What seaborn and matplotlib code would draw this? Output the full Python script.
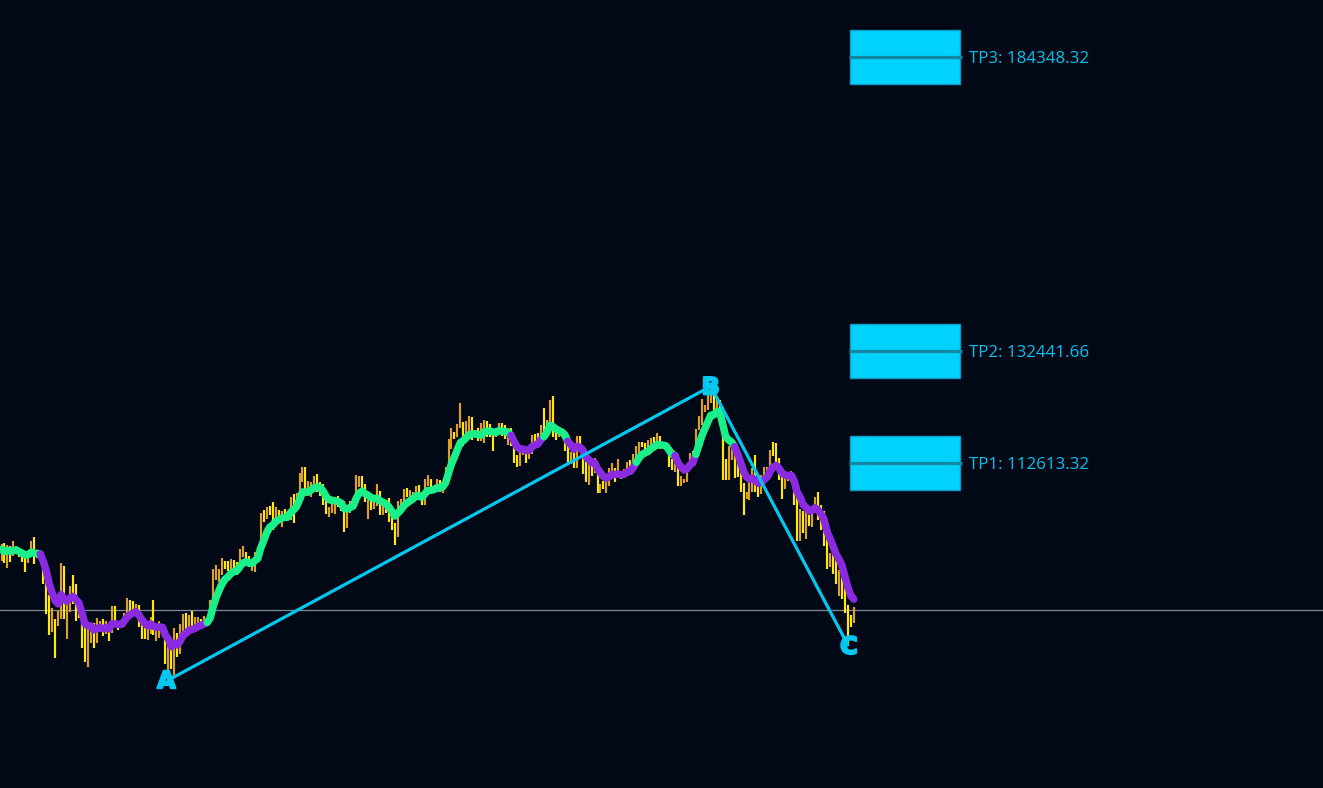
import numpy as np
import pandas as pd
import matplotlib
matplotlib.use("Agg")
import matplotlib.pyplot as plt
import matplotlib.patheffects as pe
from matplotlib.patches import Rectangle
import seaborn as sns

# ---------------- data (daily bars, prices in thousands USD) ----------------
start_date = "2025-02-10"
first_open_k = 96.5

closes_k = [
    # Feb 10-28
    97.4, 95.8, 97.9, 96.6, 97.5, 97.6, 96.1, 95.8, 95.5, 96.6, 98.3, 96.1, 96.6, 96.3, 91.5, 88.7, 84.3, 84.7, 84.4,
    # Mar
    86.0, 94.3, 86.1, 87.2, 90.6, 89.9, 86.7, 86.2, 80.7, 78.5, 83.0, 83.7, 81.1, 84.0, 84.3, 82.6, 84.1, 82.7, 86.9, 84.2,
    84.0, 83.8, 86.1, 87.5, 87.4, 86.9, 87.2, 84.4, 82.6, 82.3, 82.5,
    # Apr
    85.2, 82.5, 83.1, 83.8, 83.5, 78.2, 79.2, 76.3, 82.6, 79.6, 83.4, 85.3, 83.7, 84.5, 83.7, 84.0, 84.9, 84.4, 85.1, 85.2,
    87.5, 93.4, 93.7, 93.9, 94.7, 94.6, 93.8, 95.0, 94.3, 94.2,
    # May
    96.5, 96.9, 95.9, 94.3, 94.7, 96.8, 97.0, 103.2, 102.9, 104.6, 104.1, 102.8, 104.2, 103.5, 103.8, 103.5, 103.1, 106.5,
    105.6, 106.8, 109.7, 111.7, 107.3, 107.8, 109.0, 109.4, 108.9, 107.8, 105.6, 103.9, 104.6,
    # Jun
    105.7, 105.8, 105.4, 104.7, 101.6, 104.4, 105.6, 105.8, 110.3, 110.3, 108.7, 105.9, 106.1, 105.4, 105.6, 106.8, 104.6,
    104.9, 104.6, 103.3, 101.6, 100.9, 105.4, 106.0, 107.3, 106.9, 107.1, 107.3, 108.4, 107.1,
    # Jul
    105.7, 108.9, 109.6, 108.0, 108.2, 109.2, 108.3, 108.9, 111.3, 115.9, 117.5, 117.4, 119.1, 119.8, 117.7, 118.7, 119.3,
    117.9, 117.9, 117.3, 117.4, 119.9, 118.6, 118.3, 117.6, 117.9, 119.4, 118.0, 117.8, 117.8, 115.8,
    # Aug
    113.3, 112.5, 114.2, 115.0, 114.1, 115.0, 117.5, 116.7, 116.5, 119.3, 118.7, 120.2, 123.3, 118.4, 117.4, 117.5, 117.4,
    116.3, 112.9, 114.3, 112.5, 116.9, 115.4, 113.5, 110.1, 111.8, 111.2, 112.6, 108.4, 108.8, 108.2,
    # Sep
    109.2, 111.2, 111.7, 110.7, 110.7, 110.2, 111.2, 112.1, 111.5, 113.9, 115.5, 116.1, 115.9, 115.3, 115.4, 116.8, 116.5,
    117.1, 115.6, 115.7, 115.3, 112.7, 112.0, 113.3, 109.0, 109.7, 109.7, 112.1, 114.4, 114.0,
    # Oct
    118.6, 120.6, 122.3, 122.4, 123.5, 124.7, 121.4, 123.3, 121.7, 113.2, 110.6, 114.9, 115.3, 113.0, 110.7, 108.2, 106.4,
    107.2, 108.6, 110.5, 108.3, 107.5, 110.1, 111.0, 111.6, 114.5, 114.1, 112.9, 110.0, 108.3, 109.6,
    # Nov 1-23
    110.1, 110.6, 106.5, 101.6, 103.9, 101.3, 103.4, 102.3, 104.7, 106.0, 103.1, 101.7, 99.7, 94.4, 95.5, 94.2, 92.2,
    92.9, 91.5, 86.6, 85.1, 84.7, 86.7,
]

highs_k = [
    98.3, 98.5, 98.1, 97.9, 98.8, 97.9, 97.7, 97.0, 96.0, 96.9, 98.8, 99.5, 96.9, 96.7, 96.5, 92.5, 89.3, 87.0, 85.0,
    86.5, 95.0, 94.4, 88.9, 91.0, 92.8, 91.3, 86.9, 86.5, 84.0, 83.6, 84.3, 84.3, 85.3, 84.7, 85.0, 84.7, 84.1, 87.4, 87.4,
    84.8, 84.5, 86.1, 88.8, 88.5, 88.3, 87.8, 87.5, 84.6, 83.5, 83.9,
    85.5, 88.5, 83.9, 84.7, 84.2, 83.8, 81.2, 80.8, 83.5, 82.7, 84.2, 85.9, 86.1, 85.8, 86.5, 85.5, 85.5, 85.1, 85.6, 85.3,
    88.5, 93.9, 94.7, 94.0, 95.8, 95.3, 95.3, 95.6, 95.5, 95.2,
    97.4, 97.9, 96.9, 96.3, 95.2, 96.9, 97.7, 103.9, 104.3, 104.9, 105.0, 105.8, 104.9, 104.3, 104.2, 104.6, 103.7, 106.7,
    107.1, 107.3, 110.8, 111.9, 111.9, 109.5, 109.3, 110.4, 110.7, 109.3, 108.9, 106.3, 104.9,
    105.9, 105.9, 106.8, 106.0, 105.9, 105.3, 105.9, 106.5, 110.6, 110.4, 110.4, 108.9, 106.2, 106.2, 106.0, 108.9, 107.7,
    105.6, 105.0, 106.5, 104.0, 102.0, 106.0, 106.3, 108.0, 108.3, 107.8, 107.6, 108.5, 108.8,
    107.5, 109.8, 110.5, 109.8, 108.4, 109.8, 109.7, 109.2, 111.9, 116.9, 118.9, 118.2, 119.5, 123.2, 119.9, 120.0, 120.9,
    120.8, 118.5, 118.8, 119.7, 120.2, 120.1, 119.5, 118.4, 118.2, 119.8, 119.8, 119.3, 118.8, 118.9,
    116.1, 114.0, 114.8, 115.7, 115.1, 115.7, 117.6, 117.7, 117.9, 119.3, 122.3, 120.3, 123.7, 124.5, 119.3, 117.9, 118.6,
    117.6, 117.0, 114.6, 114.6, 117.4, 117.4, 115.6, 113.7, 112.4, 112.6, 113.5, 112.6, 108.9, 109.5,
    109.9, 111.8, 112.6, 111.8, 113.4, 111.0, 111.6, 112.9, 113.2, 114.3, 115.6, 116.3, 116.4, 116.1, 116.8, 117.0, 117.3,
    117.9, 117.5, 116.2, 115.9, 115.4, 113.3, 114.0, 113.4, 110.3, 109.8, 112.3, 114.5, 114.8,
    118.7, 121.0, 123.9, 122.9, 125.7, 126.2, 125.1, 124.1, 123.8, 122.5, 113.3, 115.6, 115.9, 115.4, 113.6, 111.9, 109.1,
    107.5, 109.4, 111.7, 114.0, 109.1, 110.6, 112.0, 111.9, 115.0, 116.4, 116.1, 113.6, 111.6, 111.2,
    110.6, 111.2, 110.7, 106.6, 104.5, 104.2, 104.0, 103.5, 105.0, 106.7, 107.5, 105.3, 104.1, 99.8, 96.8, 96.6, 96.0,
    93.8, 93.1, 93.2, 87.5, 85.8, 87.2,
]

lows_k = [
    95.3, 94.9, 94.1, 95.2, 96.3, 97.1, 96.0, 95.2, 93.4, 95.0, 96.5, 94.8, 95.8, 95.3, 91.3, 86.0, 82.3, 82.8, 78.2,
    83.8, 85.0, 85.1, 81.5, 86.3, 87.8, 84.7, 85.2, 80.0, 77.5, 76.6, 80.8, 79.9, 80.8, 83.6, 82.0, 82.5, 81.2, 82.6, 83.7,
    83.2, 83.7, 83.7, 85.9, 86.3, 85.9, 85.8, 83.6, 81.6, 81.6, 81.3,
    82.4, 82.3, 81.2, 81.7, 82.4, 77.2, 74.3, 76.2, 74.6, 78.4, 78.9, 82.8, 82.9, 83.7, 83.6, 83.1, 83.9, 84.2, 84.3, 83.9,
    85.1, 87.0, 91.9, 91.7, 92.9, 93.9, 93.6, 92.8, 93.8, 92.9,
    94.1, 96.0, 95.7, 94.2, 93.5, 93.4, 95.8, 96.9, 102.3, 102.8, 103.4, 100.8, 101.5, 102.6, 101.4, 103.1, 102.6, 102.6,
    102.0, 104.9, 106.2, 109.3, 106.8, 106.9, 106.6, 108.7, 107.6, 106.8, 105.3, 103.6, 103.1,
    103.9, 103.7, 104.9, 104.2, 100.4, 101.1, 103.9, 104.9, 105.3, 108.4, 108.1, 105.7, 102.7, 104.3, 104.5, 105.0, 103.4,
    103.5, 103.9, 102.3, 100.8, 98.2, 99.6, 104.6, 105.5, 106.6, 106.4, 106.9, 107.2, 106.8,
    105.3, 105.2, 108.6, 107.3, 107.8, 107.9, 107.5, 107.4, 108.4, 110.6, 115.2, 116.9, 117.3, 118.9, 115.7, 117.3, 117.4,
    116.8, 117.4, 116.6, 116.5, 116.1, 117.3, 117.3, 114.7, 117.2, 117.8, 117.5, 116.9, 115.8, 115.6,
    112.7, 112.0, 112.1, 114.0, 112.7, 113.4, 114.3, 115.9, 116.3, 116.5, 118.1, 118.2, 118.9, 117.2, 116.8, 117.2, 117.2,
    114.7, 112.7, 112.4, 111.8, 111.7, 114.6, 110.7, 109.3, 108.7, 110.4, 110.9, 107.4, 107.4, 108.1,
    107.3, 108.6, 110.6, 109.3, 110.2, 109.9, 110.0, 110.6, 110.8, 110.9, 113.4, 114.2, 115.4, 115.1, 114.4, 114.8, 114.8,
    116.4, 115.2, 115.5, 115.2, 111.9, 111.5, 111.1, 108.6, 108.6, 109.1, 109.3, 111.6, 112.7,
    113.9, 118.4, 119.3, 121.6, 122.1, 123.3, 120.6, 121.0, 119.7, 109.7, 109.6, 109.7, 113.2, 110.0, 110.2, 107.6, 103.5,
    106.3, 106.1, 107.5, 107.5, 106.7, 107.2, 109.7, 110.7, 111.3, 113.8, 112.2, 109.6, 106.3, 108.0,
    109.4, 109.5, 105.3, 98.9, 98.9, 100.3, 99.3, 101.5, 101.4, 104.3, 102.5, 100.8, 98.0, 94.0, 94.3, 93.0, 91.2,
    89.2, 88.6, 86.1, 80.5, 83.7, 84.4,
]

# ABC swing pivots
pivot_labels = ["A", "B", "C"]
pivot_dates = ["2025-04-07", "2025-10-06", "2025-11-21"]
pivot_prices = [74293.00, 126199.66, 80535.00]

# take-profit projections of the A-B leg from C
tp_names = ["TP1", "TP2", "TP3"]
tp_ratios = [0.618, 1.0, 2.0]

# trend state of the smoothed average (colour switches)
trend_starts = ["2025-02-10", "2025-02-23", "2025-04-20", "2025-07-31", "2025-08-11",
                "2025-08-19", "2025-09-11", "2025-09-24", "2025-10-01", "2025-10-14"]
trend_dirs = ["up", "down", "up", "down", "up", "down", "up", "down", "up", "down"]
ma_span = 7

# ---------------- style ----------------
BG = "#010816"
UP_BAR = "#DDA024"
DOWN_BAR = "#FFEA00"
MA_UP = "#1AF08A"
MA_DOWN = "#8A2BE2"
CYAN = "#00C8F0"
BOX_FILL = "#00D2FF"
BOX_EDGE = "#0E9CC4"
BOX_MID = "#14869F"
TP_TEXT = "#00C2EE"
LAST_LINE = "#7F8C9C"

sns.set_theme(style="dark", rc={"axes.facecolor": BG, "figure.facecolor": BG,
                                "savefig.facecolor": BG, "axes.grid": False})
plt.rcParams["font.family"] = ["Open Sans", "DejaVu Sans"]

fig = plt.figure(figsize=(13.23, 7.88), dpi=100)
ax = fig.add_axes([0, 0, 1, 1])
ax.set_facecolor(BG)
ax.set_axis_off()

dates = pd.date_range(start_date, periods=len(closes_k), freq="D")
df = pd.DataFrame({
    "date": dates,
    "idx": np.arange(len(closes_k)),
    "high": np.array(highs_k) * 1000.0,
    "low": np.array(lows_k) * 1000.0,
    "close": np.array(closes_k) * 1000.0,
})
df["open"] = df["close"].shift(1).fillna(first_open_k * 1000.0)
df["ma"] = df["close"].ewm(span=ma_span, adjust=False).mean()

# pixel mapping: x_px = 1.5 + 2.98 * idx ; price = 132441.66 - (y_px - 351) * 176.7
px_per_bar = 2.98
x0_px = 1.5
ax.set_xlim(-x0_px / px_per_bar, (1323 - x0_px) / px_per_bar)
ax.set_ylim(132441.66 - (788 - 351) * 176.7, 132441.66 + 351 * 176.7)

# last price line
ax.axhline(df["close"].iloc[-1], color=LAST_LINE, lw=0.9, zorder=1)

# OHLC range bars
up = df["close"] >= df["open"]
ax.vlines(df.loc[up, "idx"], df.loc[up, "low"], df.loc[up, "high"], color=UP_BAR, lw=1.55, zorder=2)
ax.vlines(df.loc[~up, "idx"], df.loc[~up, "low"], df.loc[~up, "high"], color=DOWN_BAR, lw=1.55, zorder=2)

# smoothed average with trend colouring
seg_idx = [dates.get_loc(pd.Timestamp(d)) for d in trend_starts] + [len(df) - 1]
for k, direction in enumerate(trend_dirs):
    s, e = seg_idx[k], seg_idx[k + 1]
    seg = df.iloc[s:e + 1]
    sns.lineplot(data=seg, x="idx", y="ma", ax=ax, color=MA_UP if direction == "up" else MA_DOWN,
                 lw=5.4, estimator=None, sort=False, legend=False, zorder=4,
                 solid_capstyle="round", solid_joinstyle="round")

# ABC swing lines
piv_idx = [dates.get_loc(pd.Timestamp(d)) for d in pivot_dates]
piv_df = pd.DataFrame({"idx": piv_idx, "price": pivot_prices})
sns.lineplot(data=piv_df, x="idx", y="price", ax=ax, color=CYAN, lw=2.3, estimator=None,
             sort=False, legend=False, zorder=5)
label_offsets = [(-2, -1), (0, -1), (1, -2)]
for lab, xi, p, off in zip(pivot_labels, piv_idx, pivot_prices, label_offsets):
    ax.annotate(lab, (xi, p), xytext=off, textcoords="offset pixels", ha="center", va="center",
                fontsize=17, fontweight="bold", color=CYAN, family="DejaVu Sans", zorder=6,
                path_effects=[pe.withStroke(linewidth=1.6, foreground=CYAN)])

# take-profit boxes
leg = pivot_prices[1] - pivot_prices[0]
c_idx = piv_idx[2]
box_half = 4800.0
for name, r in zip(tp_names, tp_ratios):
    tp = pivot_prices[2] + r * leg
    ax.add_patch(Rectangle((c_idx + 0.7, tp - box_half), 36.9, 2 * box_half,
                           facecolor=BOX_FILL, edgecolor=BOX_EDGE, lw=1.0, zorder=5))
    ax.hlines(tp, c_idx + 0.4, c_idx + 38.3, color=BOX_MID, lw=2.3, zorder=6)
    ax.annotate(f"{name}: {tp:.2f}", (c_idx + 40.8, tp), xytext=(0, -2), textcoords="offset pixels",
                ha="left", va="center", fontsize=12.2, color=TP_TEXT, zorder=6)

fig.savefig("out.png", dpi=100, facecolor=BG)
